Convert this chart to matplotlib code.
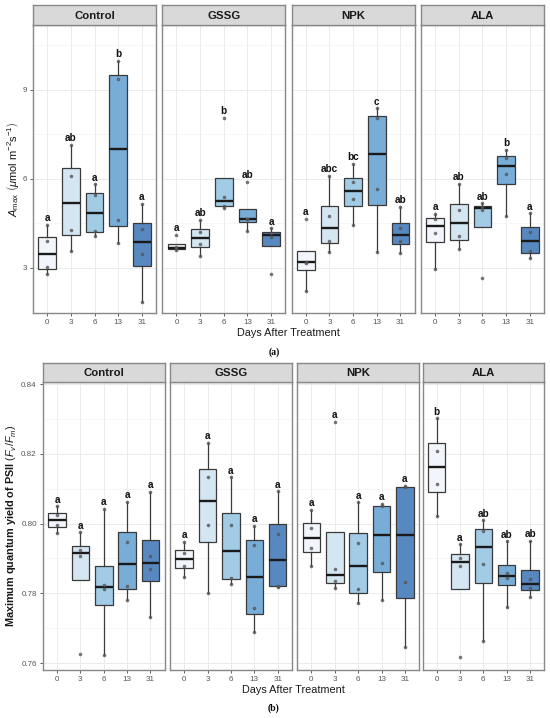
import matplotlib
matplotlib.use("Agg")
import matplotlib.pyplot as plt
import numpy as np

plt.rcParams['font.family'] = ['Liberation Sans', 'DejaVu Sans']
plt.rcParams['mathtext.fontset'] = 'custom'
plt.rcParams['mathtext.rm'] = 'Liberation Sans'
plt.rcParams['mathtext.it'] = 'Liberation Sans:italic'
plt.rcParams['mathtext.bf'] = 'Liberation Sans:bold'

# Categories
days = ["0", "3", "6", "13", "31"]
treatments = ["Control", "GSSG", "NPK", "ALA"]

# (a) Amax, four replicate values per day
amax_control = [[2.80, 3.02, 3.90, 4.45], [3.57, 4.29, 6.10, 7.15], [4.06, 4.26, 5.45, 5.82],
                [3.83, 4.63, 9.36, 9.98], [1.86, 3.47, 4.30, 5.17]]
amax_gssg = [[3.60, 3.655, 3.71, 4.11], [3.40, 3.79, 4.22, 4.62], [5.03, 5.10, 5.38, 8.05],
             [4.25, 4.64, 4.66, 5.91], [2.80, 4.03, 4.17, 4.34]]
amax_npk = [[2.22, 3.167, 3.213, 4.65], [3.55, 3.92, 4.75, 6.10], [4.45, 5.32, 5.89, 6.50],
            [3.53, 5.66, 8.05, 8.38], [3.50, 3.91, 4.34, 5.07]]
amax_ala = [[2.97, 4.17, 4.65, 4.82], [3.64, 4.06, 4.94, 5.83], [2.67, 4.95, 5.07, 5.18],
            [4.76, 6.17, 6.70, 6.98], [3.35, 3.57, 4.22, 4.84]]
amax_letters = [["a", "ab", "a", "b", "a"], ["a", "ab", "b", "ab", "a"],
                ["a", "abc", "bc", "c", "ab"], ["a", "ab", "ab", "b", "a"]]

# (b) Fv/Fm, four replicate values per day
fvfm_control = [[0.7972, 0.7997, 0.8025, 0.8049], [0.7626, 0.7907, 0.7923, 0.7975],
                [0.7623, 0.7813, 0.7824, 0.8042], [0.7781, 0.7821, 0.7947, 0.8062],
                [0.7731, 0.7869, 0.7907, 0.8091]]
fvfm_gssg = [[0.7848, 0.7879, 0.7915, 0.7948], [0.7802, 0.7997, 0.8133, 0.8232],
             [0.7826, 0.7845, 0.7997, 0.8133], [0.7688, 0.7757, 0.7938, 0.7994],
             [0.7818, 0.7820, 0.7969, 0.8092]]
fvfm_npk = [[0.7878, 0.7931, 0.7987, 0.8040], [0.7814, 0.7835, 0.7871, 0.8292],
            [0.7773, 0.7811, 0.7945, 0.8061], [0.7781, 0.7886, 0.8049, 0.8056],
            [0.7647, 0.7832, 0.8105, 0.8108]]
fvfm_ala = [[0.8021, 0.8114, 0.8208, 0.8302], [0.7616, 0.7878, 0.7902, 0.7940],
            [0.7664, 0.7885, 0.7978, 0.8009], [0.7761, 0.7843, 0.7857, 0.7949],
            [0.7788, 0.7816, 0.7840, 0.7951]]
fvfm_letters = [["a", "a", "a", "a", "a"], ["a", "a", "a", "a", "a"],
                ["a", "a", "a", "a", "a"], ["b", "a", "ab", "ab", "ab"]]

box_colors = ['#F2F6FC', '#D5E6F3', '#A2CBE6', '#78ADD8', '#5788C0']
border = '#888888'

W, H = 550, 718
fig = plt.figure(figsize=(W / 100, H / 100), dpi=100)


def px_axes(x0, y0, x1, y1):
    return fig.add_axes([x0 / W, 1 - y1 / H, (x1 - x0) / W, (y1 - y0) / H])


def draw_panel(ax, groups, letters, ylim, yticks, yminor, show_y, fmt):
    pos = np.arange(len(days))
    ax.set_axisbelow(True)
    bp = ax.boxplot(groups, positions=pos, widths=0.75, whis=1.5, showfliers=False,
                    patch_artist=True, manage_ticks=False,
                    medianprops=dict(color='#1a1a1a', lw=1.7),
                    boxprops=dict(edgecolor='#3a3a3a', lw=0.9),
                    whiskerprops=dict(color='#3a3a3a', lw=0.9),
                    capprops=dict(visible=False))
    for patch, c in zip(bp['boxes'], box_colors):
        patch.set_facecolor(c)
    for i, vals in enumerate(groups):
        ax.plot(np.full(len(vals), pos[i]), vals, 'o', ms=2.6, color='#555555',
                alpha=0.8, mec='none', zorder=4)
        ax.annotate(letters[i], (pos[i], max(vals)), xytext=(0, 1.2),
                    textcoords='offset points', ha='center', va='bottom',
                    fontsize=7.2, fontweight='bold', color='#111111')
    ax.set_xlim(-0.6, len(days) - 0.4)
    ax.set_ylim(ylim)
    ax.set_xticks(pos)
    ax.set_xticklabels(days)
    ax.set_yticks(yticks)
    ax.set_yticks(yminor, minor=True)
    ax.grid(True, which='major', color='#EBEBEB', lw=0.7)
    ax.grid(True, which='minor', axis='y', color='#F2F2F2', lw=0.45)
    ax.yaxis.set_major_formatter(plt.FormatStrFormatter(fmt))
    ax.tick_params(axis='both', which='major', labelsize=5.8, labelcolor='#555555',
                   color='#444444', length=2.5, width=0.6, pad=2)
    ax.tick_params(axis='y', which='minor', length=0)
    if not show_y:
        ax.tick_params(axis='y', left=False, labelleft=False)
    for s in ax.spines.values():
        s.set_color(border)
        s.set_linewidth(1.0)


def draw_strip(x0, y0, x1, y1, label):
    sax = px_axes(x0, y0, x1, y1)
    sax.set_facecolor('#D9D9D9')
    sax.set_xticks([])
    sax.set_yticks([])
    for s in sax.spines.values():
        s.set_color(border)
        s.set_linewidth(1.0)
    sax.text(0.5, 0.47, label, ha='center', va='center', fontsize=8.2,
             fontweight='bold', color='#1a1a1a', transform=sax.transAxes)


# panel (a)
a_left = [33, 162.3, 291.6, 420.9]
a_w = 123
amax_groups = [amax_control, amax_gssg, amax_npk, amax_ala]
for k, name in enumerate(treatments):
    x0 = a_left[k]
    ax = px_axes(x0, 25, x0 + a_w, 313)
    draw_panel(ax, amax_groups[k], amax_letters[k], (1.48, 11.19), [3, 6, 9],
               [4.5, 7.5, 10.5], k == 0, '%g')
    draw_strip(x0, 5, x0 + a_w, 25, name)

fig.text(13 / W, 1 - 169 / H, r'$A_{\mathrm{max}}$ $\left(\mu\mathrm{mol\ m^{-2}s^{-1}}\right)$',
         rotation=90, ha='center', va='center', fontsize=8, color='#1a1a1a')
fig.text(288.5 / W, 1 - 333 / H, 'Days After Treatment', ha='center', va='center',
         fontsize=7.8, color='#1a1a1a')
fig.text(274 / W, 1 - 352 / H, '(a)', ha='center', va='center', fontsize=7,
         family='Liberation Serif', fontweight='bold')

# panel (b)
b_left = [43, 170.2, 297.4, 422.6]
b_w = 121.5
fvfm_groups = [fvfm_control, fvfm_gssg, fvfm_npk, fvfm_ala]
for k, name in enumerate(treatments):
    x0 = b_left[k]
    ax = px_axes(x0, 382, x0 + b_w, 670)
    draw_panel(ax, fvfm_groups[k], fvfm_letters[k], (0.758, 0.8406),
               [0.76, 0.78, 0.80, 0.82, 0.84], [0.77, 0.79, 0.81, 0.83], k == 0, '%.2f')
    draw_strip(x0, 363, x0 + b_w, 382, name)

fig.text(12 / W, 1 - 526 / H, r'Maximum quantum yield of PSII $\left(F_v/F_m\right)$',
         rotation=90, ha='center', va='center', fontsize=7.8, fontweight='bold',
         color='#1a1a1a')
fig.text(293.5 / W, 1 - 690 / H, 'Days After Treatment', ha='center', va='center',
         fontsize=7.8, color='#1a1a1a')
fig.text(274 / W, 1 - 708 / H, '(b)', ha='center', va='center', fontsize=7,
         family='Liberation Serif', fontweight='bold')

fig.savefig('out.png', dpi=100, facecolor='white')
